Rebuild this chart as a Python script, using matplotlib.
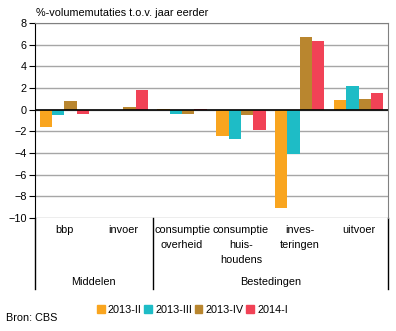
import numpy as np
import matplotlib.pyplot as plt
import matplotlib.transforms as mtransforms
from matplotlib.patches import Patch

plt.rcParams['font.family'] = ['Liberation Sans', 'DejaVu Sans']
FS = 7.8

categories = ['bbp', 'invoer', 'consumptie\noverheid', 'consumptie\nhuis-\nhoudens',
              'inves-\nteringen', 'uitvoer']
groups = ['Middelen', 'Bestedingen']
group_sizes = [2, 4]
series = ['2013-II', '2013-III', '2013-IV', '2014-I']
v_2013_II = [-1.6, 0.0, 0.1, -2.4, -9.1, 0.9]
v_2013_III = [-0.5, 0.0, -0.4, -2.7, -4.1, 2.2]
v_2013_IV = [0.8, 0.2, -0.4, -0.5, 6.7, 1.0]
v_2014_I = [-0.4, 1.8, 0.1, -1.9, 6.3, 1.5]
values = [v_2013_II, v_2013_III, v_2013_IV, v_2014_I]
colors = ['#F9A51F', '#1EBCC6', '#B9862F', '#F14256']

fig = plt.figure(figsize=(3.96, 3.31), dpi=100)
ax = fig.add_axes([35 / 396, 1 - 218 / 331, 353 / 396, 195 / 331])

x = np.arange(len(categories))
w = 0.21
for i, (vals, c) in enumerate(zip(values, colors)):
    ax.bar(x + (i - 1.5) * w, vals, width=w, color=c, zorder=3)

ax.set_xlim(-0.5, len(categories) - 0.5)
ax.set_ylim(-10, 8)
ax.set_yticks(np.arange(-10, 9, 2))
ax.tick_params(axis='y', length=4, width=0.8, labelsize=FS, pad=2)
ax.set_xticks([])
ax.yaxis.grid(True, color='#A6A6A6', linewidth=1)
ax.set_axisbelow(True)
ax.axhline(0, color='black', linewidth=1.2, zorder=4)

ax.spines['left'].set_color('black')
ax.spines['top'].set_color('#808080')
ax.spines['right'].set_color('#808080')
ax.spines['bottom'].set_visible(False)

trans = mtransforms.blended_transform_factory(ax.transData, ax.transAxes)
for xi, lab in zip(x, categories):
    ax.text(xi, -0.035, lab, transform=trans, ha='center', va='top',
            fontsize=FS, linespacing=1.62)

# separators and group labels below the axis
bounds = np.concatenate([[0], np.cumsum(group_sizes)]) - 0.5
for b in bounds:
    ax.plot([b, b], [0, -0.364], transform=trans, color='black', linewidth=1, clip_on=False)
for g, lo, hi in zip(groups, bounds[:-1], bounds[1:]):
    ax.text((lo + hi) / 2, -0.328, g, transform=trans, ha='center', va='center', fontsize=FS)

fig.text(36 / 396, 1 - 13 / 331, '%-volumemutaties t.o.v. jaar eerder',
         ha='left', va='center', fontsize=FS)

handles = [Patch(color=c) for c in colors]
fig.legend(handles, series, loc='center', bbox_to_anchor=(192.5 / 396, 1 - 310 / 331),
           ncol=4, frameon=False, fontsize=FS, handlelength=0.7, handleheight=0.7,
           handletextpad=0.3, columnspacing=0.25, borderpad=0)

fig.text(6 / 396, 1 - 318 / 331, 'Bron: CBS', ha='left', va='center', fontsize=FS)

fig.savefig('out.png', dpi=100)
